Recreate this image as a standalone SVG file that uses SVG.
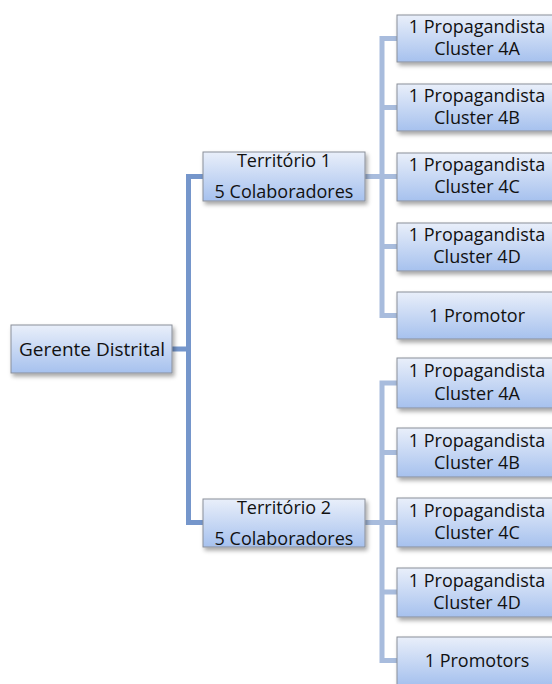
<svg xmlns="http://www.w3.org/2000/svg" width="552" height="684" viewBox="0 0 552 684">
<style>
.box{fill:url(#g);stroke:#8a8f99;stroke-width:1;filter:url(#sh)}
.t{font-family:"Open Sans","Liberation Sans",sans-serif;font-size:18px;fill:#111;text-anchor:middle}
.c1{fill:none;stroke:#7596cb;stroke-width:5}
.c2{fill:none;stroke:#a8bcdd;stroke-width:5}
</style>
<defs>
<linearGradient id="g" x1="0" y1="0" x2="0" y2="1">
<stop offset="0" stop-color="#e9effa"/>
<stop offset="1" stop-color="#a6c1ee"/>
</linearGradient>
<filter id="sh" x="-10%" y="-20%" width="130%" height="160%">
<feDropShadow dx="2" dy="3" stdDeviation="2" flood-color="#000" flood-opacity="0.35"/>
</filter>
</defs>
<rect width="552" height="684" fill="#fff"/>
<g id="connectors">
<path class="c1" d="M172 349H188.5M203 176.5H188.5V522.5H203"/>
<path class="c2" d="M365 176.5H382M397 38.5H382V315.5H397M382 107.5H397M382 176.5H397M382 246.5H397"/>
<path class="c2" d="M365 522.5H382M397 383H382V660.5H397M382 452.5H397M382 522.5H397M382 592H397"/>
</g>
<g id="gerente"><rect class="box" x="11" y="325" width="161" height="48"/><text class="t" x="92" y="356" style="font-size:19px">Gerente Distrital</text></g>
<g id="territorio1"><rect class="box" x="203" y="152" width="162" height="49"/><text class="t" x="284" y="167">Território 1</text><text class="t" x="284" y="198">5 Colaboradores</text></g>
<g id="territorio2"><rect class="box" x="203" y="499" width="162" height="48"/><text class="t" x="284" y="514">Território 2</text><text class="t" x="284" y="545">5 Colaboradores</text></g>
<g id="t1-4a"><rect class="box" x="397" y="15" width="160" height="47"/><text class="t" x="477" y="33">1 Propagandista</text><text class="t" x="477" y="55">Cluster 4A</text></g>
<g id="t1-4b"><rect class="box" x="397" y="84" width="160" height="47"/><text class="t" x="477" y="102">1 Propagandista</text><text class="t" x="477" y="124">Cluster 4B</text></g>
<g id="t1-4c"><rect class="box" x="397" y="153" width="160" height="48"/><text class="t" x="477" y="171">1 Propagandista</text><text class="t" x="477" y="193">Cluster 4C</text></g>
<g id="t1-4d"><rect class="box" x="397" y="223" width="160" height="48"/><text class="t" x="477" y="241">1 Propagandista</text><text class="t" x="477" y="263">Cluster 4D</text></g>
<g id="t1-promotor"><rect class="box" x="397" y="292" width="160" height="47"/><text class="t" x="477" y="322">1 Promotor</text></g>
<g id="t2-4a"><rect class="box" x="397" y="358" width="160" height="50"/><text class="t" x="477" y="377">1 Propagandista</text><text class="t" x="477" y="400">Cluster 4A</text></g>
<g id="t2-4b"><rect class="box" x="397" y="428" width="160" height="49"/><text class="t" x="477" y="447">1 Propagandista</text><text class="t" x="477" y="469">Cluster 4B</text></g>
<g id="t2-4c"><rect class="box" x="397" y="498" width="160" height="49"/><text class="t" x="477" y="517">1 Propagandista</text><text class="t" x="477" y="539">Cluster 4C</text></g>
<g id="t2-4d"><rect class="box" x="397" y="568" width="160" height="49"/><text class="t" x="477" y="587">1 Propagandista</text><text class="t" x="477" y="609">Cluster 4D</text></g>
<g id="t2-promotors"><rect class="box" x="397" y="637" width="160" height="48"/><text class="t" x="477" y="667">1 Promotors</text></g>
</svg>
